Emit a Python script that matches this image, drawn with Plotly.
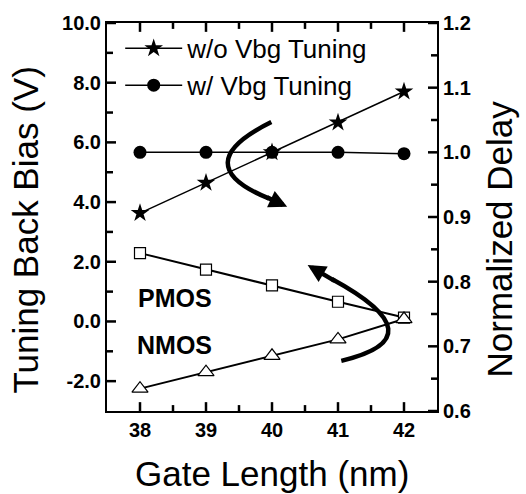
import plotly.graph_objects as go

# ---------------- data ----------------
gate_length = [38, 39, 40, 41, 42]
delay_wo_tuning = [0.906, 0.953, 1.000, 1.046, 1.094]   # right axis
delay_w_tuning = [1.000, 1.000, 1.000, 1.000, 0.998]    # right axis
pmos_bias = [2.29, 1.74, 1.21, 0.66, 0.13]              # left axis
nmos_bias = [-2.25, -1.70, -1.15, -0.60, 0.08]          # left axis

# axis ranges, tick positions / labels
x_range = [37.5, 42.5]
y_left_range = [-3, 10]
y_right_range = [0.6, 1.2]
x_major = [38, 39, 40, 41, 42]
x_minor = [38.5, 39.5, 40.5, 41.5]
y_left_major = [-2, 0, 2, 4, 6, 8, 10]
y_left_labels = ["-2.0", "0.0", "2.0", "4.0", "6.0", "8.0", "10.0"]
y_left_minor = [-1, 1, 3, 5, 7, 9]
y_right_major = [0.6, 0.7, 0.8, 0.9, 1.0, 1.1, 1.2]
y_right_labels = ["0.6", "0.7", "0.8", "0.9", "1.0", "1.1", "1.2"]
y_right_minor = [0.65, 0.75, 0.85, 0.95, 1.05, 1.15]

x_title = "Gate Length (nm)"
y_left_title = "Tuning Back Bias (V)"
y_right_title = "Normalized Delay"

# curved arrows (start, control, end) in (gate length, back-bias) coordinates
arrow_upper = [(39.99, 6.68), (38.69, 5.26), (40.23, 3.84)]
arrow_lower = [(41.05, -1.32), (42.545, -0.545), (40.54, 1.89)]

labels_text = ["PMOS", "NMOS"]
labels_x = [38.53, 38.53]
labels_y = [0.80, -0.79]

FONT = "Liberation Sans, Arial, sans-serif"
W, H = 526, 494
M = dict(l=107, r=89, t=17, b=83)
plot_w = W - M["l"] - M["r"]
plot_h = H - M["t"] - M["b"]

fig = go.Figure()

fig.add_trace(go.Scatter(
    x=gate_length, y=delay_wo_tuning, yaxis="y2", name="w/o Vbg Tuning",
    mode="lines+markers", line=dict(color="black", width=1.5),
    marker=dict(symbol="star", size=14, color="black")))
fig.add_trace(go.Scatter(
    x=gate_length, y=delay_w_tuning, yaxis="y2", name="w/ Vbg Tuning",
    mode="lines+markers", line=dict(color="black", width=1.5),
    marker=dict(symbol="circle", size=13, color="black")))
fig.add_trace(go.Scatter(
    x=gate_length, y=pmos_bias, name="PMOS", showlegend=False,
    mode="lines+markers", line=dict(color="black", width=2),
    marker=dict(symbol="square", size=11, color="white",
                line=dict(color="black", width=1.2))))
fig.add_trace(go.Scatter(
    x=gate_length, y=nmos_bias, name="NMOS", showlegend=False,
    mode="lines+markers", line=dict(color="black", width=2),
    marker=dict(symbol="triangle-up", size=14, color="white",
                line=dict(color="black", width=1.2))))


def bez(p0, c, p1, t):
    return ((1 - t) ** 2 * p0[0] + 2 * t * (1 - t) * c[0] + t ** 2 * p1[0],
            (1 - t) ** 2 * p0[1] + 2 * t * (1 - t) * c[1] + t ** 2 * p1[1])


shapes = []
annotations = []
for (p0, c, p1) in [arrow_upper, arrow_lower]:
    tail_end = bez(p0, c, p1, 0.9)
    shapes.append(dict(
        type="path", xref="x", yref="y",
        path=f"M {p0[0]},{p0[1]} Q {c[0]},{c[1]} {tail_end[0]},{tail_end[1]}",
        line=dict(color="black", width=4.5)))
    tail = bez(p0, c, p1, 0.88)
    annotations.append(dict(
        x=p1[0], y=p1[1], ax=tail[0], ay=tail[1], xref="x", yref="y",
        axref="x", ayref="y", text="", showarrow=True, arrowhead=2,
        arrowsize=0.8, arrowwidth=4.5, arrowcolor="black", standoff=0))

# inside tick marks drawn in axis units (pixel lengths converted via axis scale)
TICK = dict(color="black", width=2.5)
x_per_px = (x_range[1] - x_range[0]) / plot_w
yl_per_px = (y_left_range[1] - y_left_range[0]) / plot_h
for vals, ln in [(x_major, 9), (x_minor, 6)]:
    for v in vals:
        shapes.append(dict(type="path", xref="x", yref="y",
                           path=f"M {v},{y_left_range[0]} L {v},{y_left_range[0] + ln * yl_per_px}",
                           line=TICK, layer="above"))
        shapes.append(dict(type="path", xref="x", yref="y",
                           path=f"M {v},{y_left_range[1]} L {v},{y_left_range[1] - ln * yl_per_px}",
                           line=TICK, layer="above"))
for vals, ln in [(y_left_major, 9), (y_left_minor, 6)]:
    for v in vals:
        shapes.append(dict(type="path", xref="x", yref="y",
                           path=f"M {x_range[0]},{v} L {x_range[0] + ln * x_per_px},{v}",
                           line=TICK, layer="above"))
for vals, ln in [(y_right_major, 9), (y_right_minor, 6)]:
    for v in vals:
        shapes.append(dict(type="path", xref="x", yref="y2",
                           path=f"M {x_range[1]},{v} L {x_range[1] - ln * x_per_px},{v}",
                           line=TICK, layer="above"))

for t, lx, ly in zip(labels_text, labels_x, labels_y):
    annotations.append(dict(
        x=lx, y=ly, xref="x", yref="y", text=f"<b>{t}</b>", showarrow=False,
        font=dict(family=FONT, size=25, color="black")))

titlefont = dict(family=FONT, size=35, color="black")
# axis titles as paper-positioned annotations
annotations.append(dict(text=x_title, xref="paper", yref="paper", x=0.5, y=-0.16,
                        xanchor="center", yanchor="middle", showarrow=False, font=titlefont))
annotations.append(dict(text=y_left_title, xref="paper", yref="paper", x=-0.246, y=0.467,
                        xanchor="center", yanchor="middle", textangle=-90,
                        showarrow=False, font=titlefont))
annotations.append(dict(text=y_right_title, xref="paper", yref="paper", x=1.19, y=0.444,
                        xanchor="center", yanchor="middle", textangle=-90,
                        showarrow=False, font=titlefont))

tickfont = dict(family=FONT, size=20, color="black", weight="bold")

fig.update_layout(
    width=W, height=H,
    margin=M,
    paper_bgcolor="white", plot_bgcolor="white",
    showlegend=True,
    legend=dict(x=0.04, y=0.995, xanchor="left", yanchor="top",
                bgcolor="rgba(0,0,0,0)", font=dict(family=FONT, size=26, color="black"),
                itemwidth=57, tracegroupgap=0),
    shapes=shapes, annotations=annotations,
    xaxis=dict(
        range=x_range, tickmode="array", tickvals=x_major,
        ticktext=[str(v) for v in x_major], ticks="",
        showline=True, linewidth=2, linecolor="black", mirror=True,
        showgrid=False, zeroline=False, tickfont=tickfont),
    yaxis=dict(
        range=y_left_range, tickmode="array", tickvals=y_left_major, ticktext=y_left_labels,
        ticks="", showline=True, linewidth=2, linecolor="black", mirror=False,
        showgrid=False, zeroline=False, tickfont=tickfont),
    yaxis2=dict(
        overlaying="y", side="right", range=y_right_range,
        tickmode="array", tickvals=y_right_major, ticktext=y_right_labels,
        ticks="", showline=True, linewidth=2, linecolor="black",
        showgrid=False, zeroline=False, tickfont=tickfont),
)

fig.write_html("out.html")
